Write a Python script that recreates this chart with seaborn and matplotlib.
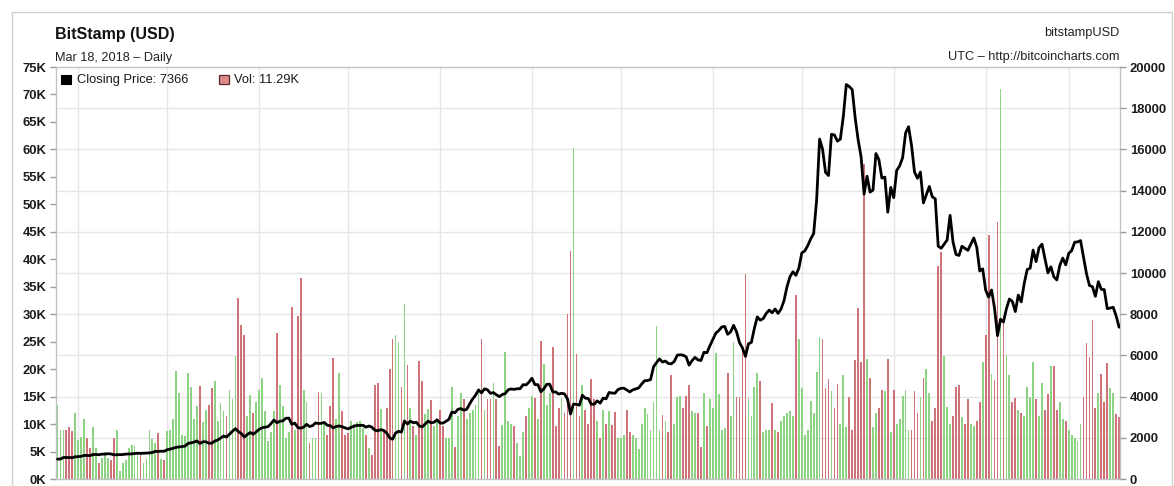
import pandas as pd
import numpy as np
import matplotlib.pyplot as plt
import seaborn as sns
from matplotlib.patches import Rectangle

# ---- data: Bitstamp daily close (USD) and volume (K BTC), Mar 25 2017 - Mar 18 2018 ----
start_date = "2017-03-25"
end_date = "2018-03-18"

close_mar17 = [965, 968, 1045, 1044, 1040, 1035, 1079]
close_apr17 = [1085, 1099, 1145, 1142, 1133, 1190, 1190, 1181, 1205, 1208, 1226, 1218, 1172, 1180, 1185,
               1186, 1208, 1216, 1218, 1240, 1250, 1244, 1250, 1253, 1265, 1288, 1343, 1335, 1350, 1348]
close_may17 = [1421, 1452, 1490, 1537, 1555, 1578, 1596, 1723, 1755, 1787, 1848, 1724, 1805, 1808, 1739, 1735,
               1839, 1888, 1987, 2084, 2041, 2173, 2320, 2443, 2304, 2202, 2038, 2155, 2255, 2175, 2286]
close_jun17 = [2407, 2488, 2515, 2540, 2687, 2863, 2732, 2805, 2823, 2947, 2958, 2659, 2717, 2506, 2464,
               2518, 2655, 2548, 2589, 2721, 2689, 2705, 2744, 2608, 2589, 2478, 2553, 2574, 2539, 2480]
close_jul17 = [2434, 2507, 2564, 2601, 2601, 2608, 2518, 2571, 2518, 2372, 2337, 2398, 2357, 2233, 1998, 1930,
               2228, 2318, 2273, 2817, 2667, 2810, 2730, 2754, 2576, 2529, 2671, 2809, 2726, 2757, 2875]
close_aug17 = [2718, 2710, 2804, 2895, 3252, 3213, 3378, 3419, 3342, 3381, 3650, 3884, 4073, 4325, 4181, 4376,
               4331, 4160, 4193, 4087, 4001, 4100, 4151, 4334, 4371, 4352, 4382, 4382, 4579, 4565, 4703]
close_sep17 = [4892, 4579, 4582, 4236, 4376, 4597, 4599, 4228, 4226, 4122, 4161, 4130, 3882, 3154, 3637,
               3625, 3582, 4065, 3924, 3905, 3631, 3630, 3792, 3682, 3926, 3892, 4200, 4174, 4163, 4338]
close_oct17 = [4403, 4409, 4317, 4229, 4328, 4370, 4426, 4610, 4772, 4781, 4826, 5446, 5647, 5831, 5678, 5725,
               5605, 5590, 5708, 6011, 6031, 6008, 5930, 5526, 5750, 5904, 5780, 5753, 6153, 6130, 6468]
close_nov17 = [6767, 7078, 7207, 7379, 7407, 7023, 7144, 7459, 7143, 6618, 6357, 5950, 6559, 6635, 7315,
               7871, 7708, 7790, 8036, 8200, 8071, 8253, 8038, 8253, 8659, 9330, 9818, 10058, 9888, 10233]
close_dec17 = [10975, 11074, 11323, 11657, 11916, 13541, 16501, 16007, 14884, 14731, 16732, 16700, 16400, 16500,
               17600, 19150, 19050, 18900, 17524, 16461, 15632, 13831, 14699, 13926, 14026, 15800, 15500, 14607,
               14656, 12952, 14156]
close_jan18 = [13657, 14982, 15201, 15600, 16800, 17100, 16200, 14900, 14600, 14900, 13400, 13800, 14200, 13700,
               13600, 11300, 11200, 11400, 11600, 12800, 11500, 10900, 10850, 11300, 11200, 11100, 11400, 11700,
               11250, 10100, 10200]
close_feb18 = [9170, 8830, 9174, 8277, 6955, 7754, 7621, 8265, 8736, 8621, 8129, 8926, 8598, 9494, 10166,
               10233, 11112, 10551, 11225, 11403, 10690, 10005, 10301, 9813, 9664, 10366, 10725, 10397]
close_mar18 = [10951, 11086, 11489, 11512, 11573, 10779, 9965, 9395, 9337, 8866, 9578, 9205, 9194, 8269, 8300,
               8338, 7917, 7366]

vol_mar17 = [13.5, 8.9, 8.9, 9.0, 9.5, 8.7, 12.0]
vol_apr17 = [7.1, 7.6, 11.0, 7.5, 5.6, 9.4, 5.6, 2.9, 3.8, 5.0, 3.8, 3.5, 7.4, 9.0, 1.5,
             2.9, 3.5, 5.6, 6.2, 6.0, 4.4, 4.4, 2.9, 3.7, 9.0, 7.3, 6.5, 8.4, 3.7, 3.5]
vol_may17 = [8.7, 9.0, 11.0, 19.6, 15.6, 8.0, 7.9, 19.3, 16.8, 11.0, 13.2, 17.0, 10.4, 12.5, 13.4, 16.5,
             17.8, 10.5, 13.9, 12.3, 11.5, 16.2, 14.6, 22.3, 33.0, 28.1, 26.3, 11.5, 15.3, 12.0, 14.1]
vol_jun17 = [16.2, 18.4, 12.4, 7.0, 8.6, 12.3, 26.6, 17.2, 13.2, 7.5, 8.5, 31.4, 9.0, 29.6, 36.6,
             16.2, 14.0, 6.5, 7.5, 7.5, 15.9, 15.6, 10.0, 8.1, 13.2, 22.0, 11.0, 19.3, 12.3, 8.1]
vol_jul17 = [8.4, 10.5, 10.0, 10.4, 10.5, 9.2, 8.1, 5.6, 4.4, 17.2, 17.4, 12.8, 9.0, 13.0, 20.0, 25.5,
             26.3, 25.0, 16.7, 31.8, 20.7, 13.0, 9.6, 8.1, 21.4, 17.9, 11.8, 12.8, 14.4, 9.6, 10.3]
vol_aug17 = [12.5, 9.6, 7.5, 7.5, 16.7, 5.8, 11.5, 15.6, 14.6, 11.0, 12.0, 12.5, 13.5, 15.6, 25.5, 12.5,
             14.5, 14.6, 17.5, 14.6, 6.0, 9.8, 23.1, 10.6, 10.0, 9.6, 6.5, 4.2, 8.6, 11.5, 13.0]
vol_sep17 = [15.1, 14.8, 11.0, 25.2, 21.0, 13.5, 15.6, 24.0, 9.6, 13.0, 14.7, 12.0, 30.0, 41.5, 60.3,
             22.8, 11.5, 17.2, 12.5, 10.0, 18.2, 14.5, 10.5, 7.5, 12.5, 10.0, 12.3, 9.8, 12.2, 7.5]
vol_oct17 = [7.5, 8.0, 12.5, 8.5, 8.0, 7.5, 5.5, 10.0, 12.9, 11.8, 9.0, 14.0, 27.8, 9.0, 11.6, 10.5,
             8.6, 19.0, 10.0, 15.0, 15.2, 13.0, 15.2, 17.2, 12.3, 12.0, 12.0, 5.8, 15.6, 9.6, 14.5]
vol_nov17 = [13.0, 23.0, 15.5, 9.0, 9.2, 19.3, 11.5, 24.9, 14.9, 15.0, 24.0, 37.4, 14.7, 11.5, 16.8,
             19.3, 17.9, 8.5, 9.0, 9.0, 13.9, 9.0, 8.6, 10.5, 11.5, 12.0, 12.4, 11.5, 33.5, 25.5]
vol_dec17 = [16.5, 8.0, 9.0, 14.2, 12.0, 19.5, 25.8, 25.5, 16.5, 18.2, 16.0, 13.0, 17.3, 10.0, 19.0, 9.5,
             14.9, 9.0, 21.6, 31.1, 21.3, 57.3, 21.9, 18.3, 9.5, 12.0, 13.0, 16.2, 16.0, 21.9, 8.5]
vol_jan18 = [16.2, 10.0, 11.0, 15.2, 16.2, 9.0, 9.0, 16.0, 12.0, 15.0, 18.3, 20.0, 15.6, 10.5, 13.0, 38.8,
             41.3, 22.4, 13.1, 10.0, 11.5, 16.8, 17.1, 11.2, 10.0, 14.6, 10.0, 9.7, 10.5, 14.0, 21.3]
vol_feb18 = [26.3, 44.5, 19.1, 18.0, 46.7, 71.0, 29.6, 22.6, 19.0, 14.0, 14.7, 12.6, 12.0, 11.5,
             16.7, 15.0, 21.3, 14.5, 11.5, 17.5, 12.5, 15.5, 20.5, 20.5, 12.5, 14.1, 11.0, 10.5]
vol_mar18 = [9.0, 8.0, 7.5, 7.0, 10.0, 14.9, 24.7, 22.2, 28.9, 13.0, 15.6, 19.2, 14.0, 21.2, 16.5,
             15.6, 11.8, 11.29]

vol_ticks = list(range(0, 75001, 5000))
price_ticks = list(range(0, 20001, 2000))

close = (close_mar17 + close_apr17 + close_may17 + close_jun17 + close_jul17 + close_aug17 + close_sep17
         + close_oct17 + close_nov17 + close_dec17 + close_jan18 + close_feb18 + close_mar18)
vol = (vol_mar17 + vol_apr17 + vol_may17 + vol_jun17 + vol_jul17 + vol_aug17 + vol_sep17
       + vol_oct17 + vol_nov17 + vol_dec17 + vol_jan18 + vol_feb18 + vol_mar18)

dates = pd.date_range(start_date, end_date, freq="D")
df = pd.DataFrame({"date": dates, "close": close, "vol": np.array(vol) * 1000})
df["day"] = np.arange(len(df))
# bar colour follows the day's move
df["move"] = np.where(df["close"].diff().fillna(1) >= 0, "up", "down")
month_starts = df.loc[df["date"].dt.day == 1, "day"].tolist()

# ---- style ----
sns.set_theme(style="white")
plt.rcParams["font.family"] = ["Liberation Sans", "DejaVu Sans"]

green = "#8cd483"
red = "#cf727a"
grid_col = "#e6e6e6"
spine_col = "#c2c2c2"

W, H = 1174, 486
def fx(px):
    return px / W
def fy(py):
    return 1 - py / H

fig = plt.figure(figsize=(W / 100, H / 100), dpi=100)
ax = fig.add_axes([fx(56), fy(479), fx(1120) - fx(56), fy(67) - fy(479)])

# volume bars (left axis)
sns.barplot(data=df, x="day", y="vol", hue="move", palette={"up": green, "down": red},
            native_scale=True, width=0.6, dodge=False, legend=False, errorbar=None,
            saturation=1, linewidth=0, ax=ax)
ax.set_xlim(-0.5, len(df) - 0.7)
ax.set_ylim(0, 75000)
ax.set_yticks(vol_ticks)
ax.set_yticklabels([f"{v // 1000}K" for v in vol_ticks])
ax.set_xticks(month_starts)
ax.set_xticklabels([])
ax.set_xlabel("")
ax.set_ylabel("")

# grid: horizontal lines follow the price ticks, vertical lines at month starts
ax.grid(False)
for p in price_ticks[1:-1]:
    ax.axhline(p * 75000 / 20000, color=grid_col, lw=1, zorder=0.5)
ax.grid(True, which="major", axis="x", color=grid_col, lw=1)
ax.set_axisbelow(True)
ax.tick_params(axis="x", length=0)
ax.tick_params(axis="y", which="major", direction="out", length=4, width=1, color="#9a9a9a",
               labelsize=9.4, pad=3, labelcolor="#1c1c1c")
for lab in ax.get_yticklabels():
    lab.set_fontweight("bold")
for s in ax.spines.values():
    s.set_color(spine_col)
    s.set_linewidth(1)

# closing price line (right axis)
ax2 = ax.twinx()
sns.lineplot(data=df, x="day", y="close", color="black", lw=2.0, ax=ax2)
ax2.set_ylim(0, 20000)
ax2.set_yticks(price_ticks)
ax2.set_yticklabels([str(p) for p in price_ticks])
ax2.set_xlabel("")
ax2.set_ylabel("")
ax2.grid(False)
ax2.tick_params(axis="y", direction="out", length=4, width=1, color="#9a9a9a",
                labelsize=9.4, pad=3, labelcolor="#1c1c1c")
for lab in ax2.get_yticklabels():
    lab.set_fontweight("bold")
for s in ax2.spines.values():
    s.set_visible(False)

# ---- texts ----
fig.text(fx(55), fy(34), "BitStamp (USD)", fontsize=11.5, fontweight="bold", va="center", color="#111111")
fig.text(fx(55), fy(58), "Mar 18, 2018 \u2013 Daily", fontsize=9.2, va="center", color="#222222")
fig.text(fx(1119), fy(33), "bitstampUSD", fontsize=9.2, ha="right", va="center", color="#222222")
fig.text(fx(1119), fy(57), "UTC \u2013 http://bitcoincharts.com", fontsize=9.2, ha="right", va="center",
         color="#222222")

# legend line
fig.add_artist(Rectangle((fx(61), fy(84)), 10 / W, 9 / H, transform=fig.transFigure,
                         facecolor="black", edgecolor="black", lw=0.8))
fig.text(fx(77), fy(79.5), f"Closing Price: {close[-1]}", fontsize=9.3, va="center", color="#1a1a1a")
fig.add_artist(Rectangle((fx(219), fy(84)), 10 / W, 9 / H, transform=fig.transFigure,
                         facecolor="#e08a8c", edgecolor="#5a2a2a", lw=0.9))
fig.text(fx(234), fy(79.5), f"Vol: {vol[-1]:.2f}K", fontsize=9.3, va="center", color="#1a1a1a")

# outer frame of the chart panel
fig.add_artist(Rectangle((fx(12), fy(H + 20)), (1172 - 12) / W, (H + 8) / H, transform=fig.transFigure,
                         fill=False, edgecolor="#d0d0d0", lw=1))

fig.savefig("out.png", dpi=100)
